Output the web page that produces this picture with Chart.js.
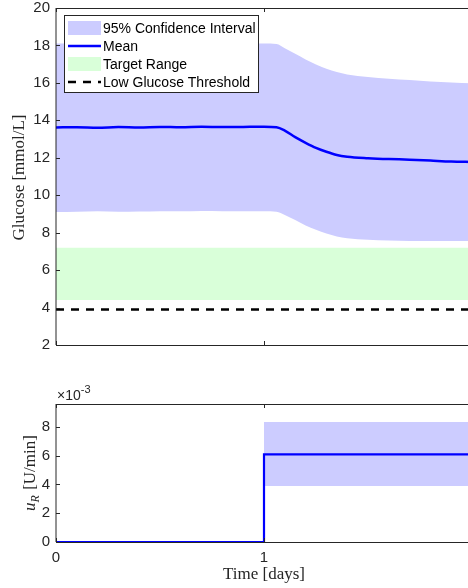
<!DOCTYPE html>
<html>
<head>
<meta charset="utf-8">
<script src="https://cdn.jsdelivr.net/npm/chart.js@4.4.1/dist/chart.umd.min.js"></script>
<style>
  html, body { margin: 0; padding: 0; background: #fff; overflow: hidden; }
  body { width: 468px; height: 588px; position: relative; }
  canvas { position: absolute; left: 0; }
  #glucoseChart { top: 0; }
  #insulinChart { top: 365px; }
</style>
</head>
<body>
<canvas id="glucoseChart" width="472" height="365"></canvas>
<canvas id="insulinChart" width="472" height="223"></canvas>
<script>
// time axis (days); the picture is cut just before day 2
const dayTicks = [0, 1, 2];
const xMax = 2;

// glucose panel
const glucoseDays  = [0, 0.1, 0.2, 0.3, 0.4, 0.5, 0.6, 0.7, 0.8, 0.9, 1.0,
                      1.06, 1.1, 1.15, 1.2, 1.25, 1.3, 1.35, 1.4, 1.5, 1.6, 1.7, 1.8, 1.9, 2.0];
const glucoseMean  = [13.62, 13.63, 13.6, 13.64, 13.62, 13.65, 13.63, 13.66, 13.64, 13.65, 13.66,
                      13.63, 13.45, 13.1, 12.8, 12.53, 12.32, 12.15, 12.06, 11.98, 11.93, 11.9, 11.85, 11.8, 11.78];
const glucoseUpper = [18.1, 18.1, 18.1, 18.1, 18.1, 18.1, 18.1, 18.1, 18.1, 18.1, 18.1,
                      18.08, 17.85, 17.55, 17.25, 16.98, 16.75, 16.58, 16.45, 16.32, 16.22, 16.15, 16.08, 16.02, 15.98];
const glucoseLower = [9.1, 9.12, 9.14, 9.12, 9.13, 9.15, 9.14, 9.16, 9.15, 9.14, 9.15,
                      9.12, 8.95, 8.68, 8.38, 8.15, 7.95, 7.8, 7.7, 7.62, 7.58, 7.56, 7.55, 7.55, 7.56];
const targetRange = [4.4, 7.2];
const lowThreshold = 3.9;
const glucoseTicks = [2, 4, 6, 8, 10, 12, 14, 16, 18, 20];

// insulin panel (U/min)
const insulinDays  = [0, 1, 1, 2];
const insulinMean  = [0, 0, 0.0061, 0.0061];
const insulinLower = [0, 0, 0.0039, 0.0039];
const insulinUpper = [0, 0, 0.00835, 0.00835];
const insulinTicks = [0, 0.002, 0.004, 0.006, 0.008];

const CI_FILL = 'rgb(204,204,255)';
const TARGET_FILL = 'rgb(217,255,217)';
const MEAN_BLUE = '#0000ff';
const AXIS = '#262626';
const NONE = 'rgba(0,0,0,0)';
const SANS = '"Liberation Sans", Arial, sans-serif';
const SERIF = '"Liberation Serif", "Times New Roman", serif';

const pts = (xs, ys) => xs.map((x, i) => ({ x, y: ys[i] }));
const flat = (v) => pts([0, xMax], [v, v]);

// fixed axis sizes, no extra room for the end labels
const fixY = w => s => { s.width = w; s.paddingTop = 0; s.paddingBottom = 0; };
const fixX = h => s => { s.height = h; s.paddingLeft = 0; s.paddingRight = 0; };

// matlab-ish box with inward ticks
const frame = {
    id: 'frame',
    afterDatasetsDraw(chart, args, opts) {
        const { ctx, chartArea: a, scales: { x, y } } = chart;
        ctx.save();
        ctx.strokeStyle = AXIS;
        ctx.lineWidth = 1;
        ctx.beginPath();
        ctx.moveTo(a.left, a.top + 0.5);
        ctx.lineTo(a.right, a.top + 0.5);
        ctx.moveTo(a.left, a.top);
        ctx.lineTo(a.left, a.bottom);
        ctx.moveTo(a.left, a.bottom + 0.5);
        ctx.lineTo(a.right, a.bottom + 0.5);
        opts.yTicks.forEach(v => {
            const py = Math.round(y.getPixelForValue(v)) + 0.5;
            ctx.moveTo(a.left, py);
            ctx.lineTo(a.left + 4, py);
        });
        opts.xTicks.forEach(v => {
            const px = Math.round(x.getPixelForValue(v)) + 0.5;
            ctx.moveTo(px, a.top);
            ctx.lineTo(px, a.top + 4);
            ctx.moveTo(px, a.bottom);
            ctx.lineTo(px, a.bottom - 4);
        });
        ctx.stroke();
        ctx.restore();
    }
};

const glucoseLegend = {
    id: 'glucoseLegend',
    afterDraw(chart) {
        const ctx = chart.ctx;
        const ds = chart.data.datasets;
        const x0 = 64.5, y0 = 15.5, w = 194, h = 77;
        ctx.save();
        ctx.fillStyle = '#fff';
        ctx.fillRect(x0, y0, w, h);
        ctx.strokeStyle = AXIS;
        ctx.lineWidth = 1;
        ctx.strokeRect(x0, y0, w, h);
        const rows = [ds[0], ds[5], ds[2], ds[4]];
        rows.forEach((d, i) => {
            const cy = 28 + i * 18;
            if (d.fill !== false && d.fill !== undefined) {
                ctx.fillStyle = d.backgroundColor;
                ctx.fillRect(68, cy - 7, 33, 14);
            } else {
                ctx.strokeStyle = d.borderColor;
                ctx.lineWidth = d.borderWidth;
                ctx.setLineDash(d.borderDash || []);
                ctx.beginPath();
                ctx.moveTo(68, cy);
                ctx.lineTo(101, cy);
                ctx.stroke();
                ctx.setLineDash([]);
            }
            ctx.fillStyle = '#000';
            ctx.font = '14px ' + SANS;
            ctx.textBaseline = 'middle';
            ctx.fillText(d.label, 103, cy + 1);
        });
        ctx.restore();
    }
};

const glucoseTitle = {
    id: 'glucoseTitle',
    afterDraw(chart) {
        const { ctx, chartArea: a } = chart;
        ctx.save();
        ctx.translate(20, (a.top + a.bottom) / 2 + 1);
        ctx.rotate(-Math.PI / 2);
        ctx.font = '17px ' + SERIF;
        ctx.fillStyle = AXIS;
        ctx.textAlign = 'center';
        ctx.textBaseline = 'middle';
        ctx.fillText('Glucose [mmol/L]', 0, 0);
        ctx.restore();
    }
};

const insulinTitles = {
    id: 'insulinTitles',
    afterDraw(chart) {
        const { ctx, chartArea: a } = chart;
        ctx.save();
        ctx.fillStyle = AXIS;
        // exponent label
        ctx.font = '14px ' + SANS;
        ctx.textBaseline = 'alphabetic';
        ctx.fillText('\u00d710', 57, a.top - 4);
        const wBase = ctx.measureText('\u00d710').width;
        ctx.font = '11px ' + SANS;
        ctx.fillText('-3', 57 + wBase, a.top - 11);
        // y label: u_R [U/min]
        const main = '17px ' + SERIF, ital = 'italic 17px ' + SERIF, sub = 'italic 12px ' + SERIF;
        ctx.font = ital; const wu = ctx.measureText('u').width;
        ctx.font = sub; const wr = ctx.measureText('R').width;
        ctx.font = main; const wt = ctx.measureText(' [U/min]').width;
        const total = wu + wr + 1 + wt;
        ctx.translate(30, (a.top + a.bottom) / 2);
        ctx.rotate(-Math.PI / 2);
        ctx.textBaseline = 'alphabetic';
        let cx = -total / 2;
        ctx.font = ital; ctx.fillText('u', cx, 5); cx += wu;
        ctx.font = sub; ctx.fillText('R', cx, 9); cx += wr + 1;
        ctx.font = main; ctx.fillText(' [U/min]', cx, 5);
        ctx.restore();
        // x label, centred on the full 0..2 day axis
        ctx.save();
        ctx.fillStyle = AXIS;
        ctx.font = '17px ' + SERIF;
        ctx.textAlign = 'center';
        ctx.textBaseline = 'middle';
        ctx.fillText('Time [days]', (a.left + a.right) / 2, a.bottom + 33);
        ctx.restore();
    }
};

const tickFont = { family: SANS, size: 15 };

new Chart(document.getElementById('glucoseChart'), {
    type: 'line',
    data: {
        datasets: [
            { label: '95% Confidence Interval', data: pts(glucoseDays, glucoseUpper), fill: 1,
              backgroundColor: CI_FILL, borderColor: NONE, borderWidth: 0, pointRadius: 0,
              cubicInterpolationMode: 'monotone', order: 6 },
            { label: 'lower', data: pts(glucoseDays, glucoseLower), fill: false,
              borderColor: NONE, borderWidth: 0, pointRadius: 0, cubicInterpolationMode: 'monotone', order: 7 },
            { label: 'Target Range', data: flat(targetRange[1]), fill: 3,
              backgroundColor: TARGET_FILL, borderColor: NONE, borderWidth: 0, pointRadius: 0, order: 4 },
            { label: 'targetLow', data: flat(targetRange[0]), fill: false,
              borderColor: NONE, borderWidth: 0, pointRadius: 0, order: 5 },
            { label: 'Low Glucose Threshold', data: flat(lowThreshold), fill: false,
              borderColor: '#000', borderWidth: 2.5, borderDash: [8, 7], pointRadius: 0, order: 2 },
            { label: 'Mean', data: pts(glucoseDays, glucoseMean), fill: false,
              borderColor: MEAN_BLUE, borderWidth: 2.5, pointRadius: 0, cubicInterpolationMode: 'monotone', order: 1 }
        ]
    },
    options: {
        responsive: false,
        animation: false,
        layout: { padding: { top: 8, left: 0, right: 0, bottom: 0 } },
        plugins: { legend: { display: false }, tooltip: { enabled: false }, frame: { xTicks: dayTicks, yTicks: glucoseTicks } },
        scales: {
            x: {
                type: 'linear', min: 0, max: xMax,
                afterFit: fixX(20),
                ticks: { display: false },
                grid: { display: false, drawTicks: false },
                border: { display: false }
            },
            y: {
                min: 2, max: 20,
                afterFit: fixY(56),
                afterBuildTicks: s => { s.ticks = glucoseTicks.map(v => ({ value: v })); },
                ticks: { font: tickFont, color: AXIS, padding: 6 },
                grid: { display: false, drawTicks: false },
                border: { display: false }
            }
        }
    },
    plugins: [frame, glucoseLegend, glucoseTitle]
});

new Chart(document.getElementById('insulinChart'), {
    type: 'line',
    data: {
        datasets: [
            { label: 'upper', data: pts(insulinDays, insulinUpper), fill: 1,
              backgroundColor: CI_FILL, borderColor: NONE, borderWidth: 0, pointRadius: 0, order: 3 },
            { label: 'lower', data: pts(insulinDays, insulinLower), fill: false,
              borderColor: NONE, borderWidth: 0, pointRadius: 0, order: 4 },
            { label: 'Mean', data: pts(insulinDays, insulinMean), fill: false,
              borderColor: MEAN_BLUE, borderWidth: 2.2, pointRadius: 0, order: 1 }
        ]
    },
    options: {
        responsive: false,
        animation: false,
        layout: { padding: { top: 39, left: 0, right: 0, bottom: 0 } },
        plugins: { legend: { display: false }, tooltip: { enabled: false }, frame: { xTicks: dayTicks, yTicks: insulinTicks } },
        scales: {
            x: {
                type: 'linear', min: 0, max: xMax,
                afterFit: fixX(46),
                // the day-2 label falls outside the cropped picture
                afterBuildTicks: s => { s.ticks = dayTicks.filter(v => v < xMax).map(v => ({ value: v })); },
                ticks: { font: tickFont, color: AXIS, padding: 7, maxRotation: 0 },
                grid: { display: false, drawTicks: false },
                border: { display: false }
            },
            y: {
                min: 0, max: 0.0096,
                afterFit: fixY(56),
                afterBuildTicks: s => { s.ticks = insulinTicks.map(v => ({ value: v })); },
                ticks: { font: tickFont, color: AXIS, padding: 6, callback: v => String(Math.round(v * 1000)) },
                grid: { display: false, drawTicks: false },
                border: { display: false }
            }
        }
    },
    plugins: [frame, insulinTitles]
});
</script>
</body>
</html>
